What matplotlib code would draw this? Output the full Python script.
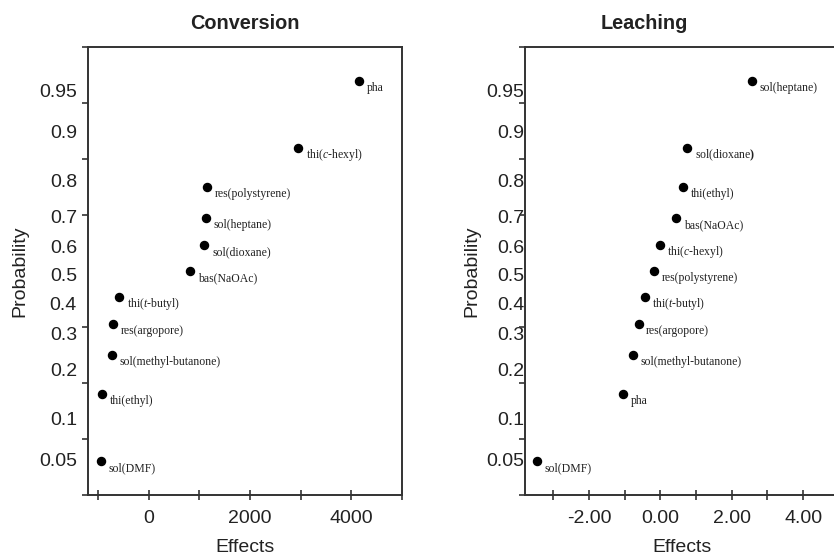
import matplotlib
matplotlib.use("Agg")
import matplotlib.pyplot as plt
import matplotlib.transforms as mtransforms
import numpy as np
from statistics import NormalDist

# data
conv_names = ["pha", r"thi($\mathit{c}$-hexyl)", "res(polystyrene)", "sol(heptane)",
              "sol(dioxane)", "bas(NaOAc)", r"thi($\mathit{t}$-butyl)", "res(argopore)",
              "sol(methyl-butanone)", "thi(ethyl)", "sol(DMF)"]
conv_effects = [4160, 2945, 1145, 1125, 1100, 820, -590, -700, -725, -915, -950]

leach_names = ["sol(heptane)", r"sol(dioxane$\mathbf{)}$", "thi(ethyl)", "bas(NaOAc)",
               r"thi($\mathit{c}$-hexyl)", "res(polystyrene)", r"thi($\mathit{t}$-butyl)",
               "res(argopore)", "sol(methyl-butanone)", "pha", "sol(DMF)"]
leach_effects = [2.57, 0.76, 0.64, 0.44, -0.02, -0.18, -0.44, -0.61, -0.76, -1.05, -3.45]

# probability of each ranked point (top to bottom)
point_prob = [0.955, 0.864, 0.773, 0.682, 0.591, 0.5, 0.409, 0.318, 0.227, 0.136, 0.045]

prob_ticks = [0.95, 0.9, 0.8, 0.7, 0.6, 0.5, 0.4, 0.3, 0.2, 0.1, 0.05]
prob_labels = ["0.95", "0.9", "0.8", "0.7", "0.6", "0.5", "0.4", "0.3", "0.2", "0.1", "0.05"]

nd = NormalDist()
def z(p):
    return [nd.inv_cdf(v) for v in p]

plt.rcParams['font.family'] = ['Liberation Sans', 'DejaVu Sans']
plt.rcParams['mathtext.fontset'] = 'custom'
plt.rcParams['mathtext.rm'] = 'Liberation Serif'
plt.rcParams['mathtext.it'] = 'Liberation Serif:italic'
plt.rcParams['mathtext.bf'] = 'Liberation Serif:bold'

fig = plt.figure(figsize=(8.34, 5.56), dpi=100)
ax1 = fig.add_axes([0.1055, 0.1097, 0.3765, 0.8058])
ax2 = fig.add_axes([0.630, 0.1097, 0.3758, 0.8058])

spcol = '#333333'
txtcol = '#222222'


def setup(ax, names, effects, xlim, xticks, xlabels, title, ypad, show_right):
    zs = z(point_prob)
    ax.plot(effects, zs, 'o', color='black', ms=5.8, clip_on=False)
    for n, x, y in zip(names, effects, zs):
        ax.annotate(n, (x, y), xytext=(5.5, -5), textcoords='offset points',
                    fontsize=8.5, family='Liberation Serif', va='center', ha='left',
                    color=txtcol)
    ax.set_xlim(*xlim)
    ax.set_ylim(-2, 2)
    ax.set_xticks(xticks)
    ax.set_xticklabels(xlabels)
    ax.set_yticks(z(prob_ticks))
    ax.set_yticklabels(prob_labels)
    ax.set_yticks(np.arange(-2, 2.01, 0.5), minor=True)
    ax.tick_params(axis='y', which='major', length=0, pad=ypad, labelsize=14, colors=txtcol)
    ax.tick_params(axis='y', which='minor', length=4, width=1.2, direction='out', color=spcol)
    ax.tick_params(axis='x', which='major', length=7, width=1.2, direction='inout',
                   labelsize=14, colors=txtcol, color=spcol, pad=7)
    off = mtransforms.ScaledTranslation(0, -4 / 100, fig.dpi_scale_trans)
    for lab in ax.get_yticklabels():
        lab.set_transform(lab.get_transform() + off)
    for s in ax.spines.values():
        s.set_linewidth(1.4)
        s.set_color(spcol)
    ax.spines['right'].set_visible(show_right)
    ax.set_title(title, fontsize=14.3, fontweight='bold', pad=13, color=txtcol)
    ax.set_xlabel('Effects', fontsize=14, labelpad=9, color=txtcol)
    ax.set_ylabel('Probability', fontsize=14, color=txtcol)


setup(ax1, conv_names, conv_effects, (-1200, 5000), np.arange(-1000, 5001, 1000),
      ["", "0", "", "2000", "", "4000", ""], "Conversion", 8, True)
ax1.yaxis.set_label_coords(-0.19, 0.5)

setup(ax2, leach_names, leach_effects, (-3.78, 5.0), np.arange(-3, 5.01, 1),
      ["", "-2.00", "", "0.00", "", "2.00", "", "4.00", ""], "Leaching", 1, False)
ax2.yaxis.set_label_coords(-0.144, 0.5)
ax2.title.set_position((0.38, 1.0))

fig.savefig('out.png', dpi=100)
